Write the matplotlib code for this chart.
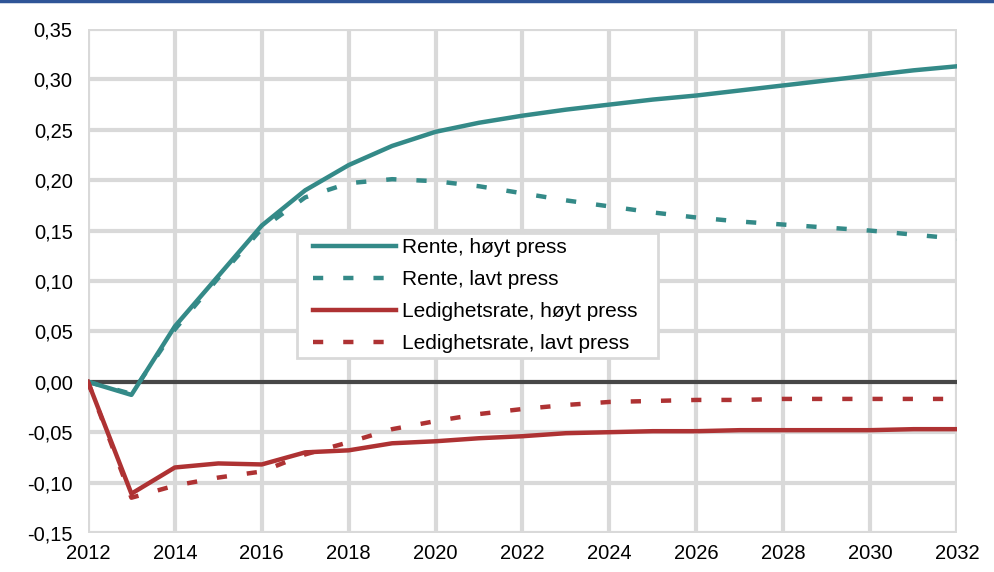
import matplotlib
matplotlib.use('Agg')
import matplotlib.pyplot as plt
from matplotlib.ticker import FuncFormatter
from matplotlib.lines import Line2D
from matplotlib.patches import Rectangle

plt.rcParams['font.family'] = ['Liberation Sans', 'DejaVu Sans']

years = list(range(2012, 2033))

rente_hoyt = [0.0, -0.013, 0.055, 0.105, 0.155, 0.190, 0.215, 0.234, 0.248, 0.257,
              0.264, 0.270, 0.275, 0.280, 0.284, 0.289, 0.294, 0.299, 0.304, 0.309, 0.313]
rente_lavt = [0.0, -0.012, 0.052, 0.103, 0.152, 0.183, 0.197, 0.201, 0.199, 0.194,
              0.187, 0.180, 0.174, 0.168, 0.163, 0.159, 0.156, 0.153, 0.150, 0.146, 0.142]
ledig_hoyt = [0.0, -0.111, -0.085, -0.081, -0.082, -0.070, -0.068, -0.061, -0.059, -0.056,
              -0.054, -0.051, -0.050, -0.049, -0.049, -0.048, -0.048, -0.048, -0.048, -0.047, -0.047]
ledig_lavt = [0.0, -0.115, -0.103, -0.095, -0.089, -0.072, -0.060, -0.047, -0.039, -0.032,
              -0.027, -0.023, -0.020, -0.019, -0.018, -0.018, -0.017, -0.017, -0.017, -0.017, -0.017]

labels = ['Rente, høyt press', 'Rente, lavt press',
          'Ledighetsrate, høyt press', 'Ledighetsrate, lavt press']

teal = '#348a88'
red = '#ae3233'
grid_col = '#d9d9d9'

fig = plt.figure(figsize=(9.94, 5.72), dpi=100)
ax = fig.add_axes([0.0885, 0.0682, 0.8743, 0.8811])

# gridlines
for x in range(2012, 2033, 2):
    ax.axvline(x, color=grid_col, lw=3, zorder=0)
for i in range(-3, 8):
    ax.axhline(i * 0.05, color=grid_col, lw=3, zorder=0)
ax.axhline(0, color='#474747', lw=3, zorder=1)

lw = 3.2
dash = (0, (2.3, 4.5))
ax.plot(years, rente_hoyt, color=teal, lw=lw, label=labels[0], zorder=3)
ax.plot(years, rente_lavt, color=teal, lw=lw, linestyle=dash, label=labels[1], zorder=3)
ax.plot(years, ledig_hoyt, color=red, lw=lw, label=labels[2], zorder=3)
ax.plot(years, ledig_lavt, color=red, lw=lw, linestyle=dash, label=labels[3], zorder=3)

ax.set_xlim(2012, 2032)
ax.set_ylim(-0.15, 0.35)
ax.set_xticks(range(2012, 2033, 2))
ax.set_yticks([i * 0.05 for i in range(-3, 8)])
ax.yaxis.set_major_formatter(FuncFormatter(lambda v, p: ('%.2f' % v).replace('.', ',').replace('-0,00', '0,00')))
ax.tick_params(length=0, labelsize=14.5, colors='black')
ax.tick_params(axis='y', pad=11)
ax.tick_params(axis='x', pad=8)
for s in ax.spines.values():
    s.set_visible(False)

# legend box
ax.add_patch(Rectangle((0.2405, 0.347), 0.4155, 0.248, transform=ax.transAxes,
                       facecolor='white', edgecolor=grid_col, lw=2, zorder=4))
leg = ax.legend(loc='upper left', bbox_to_anchor=(0.2589, 0.585), fontsize=15,
                frameon=False, handlelength=4.0, handletextpad=0.25, labelspacing=0.62,
                borderpad=0, borderaxespad=0)
leg.set_zorder(5)

# top rule
fig.add_artist(Line2D([0, 1], [0.998, 0.998], color='#2f5597', lw=2.5, transform=fig.transFigure))

plt.savefig('out.png', dpi=100)
